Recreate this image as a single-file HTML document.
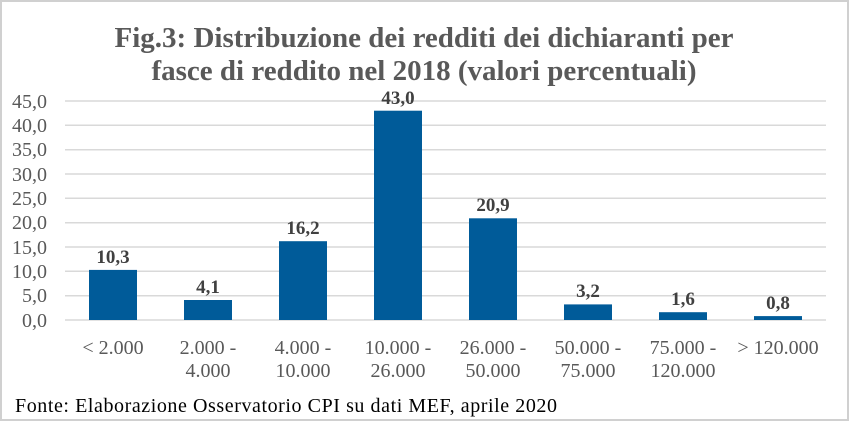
<!DOCTYPE html><html><head><style>body{margin:0;background:#fff}</style></head><body>
<svg width="849" height="421" xmlns="http://www.w3.org/2000/svg" font-family="Liberation Serif, serif">
<rect x="1" y="1" width="847" height="419" fill="#fff" stroke="#d0d0d0" stroke-width="2"/>
<text x="424" y="47" text-anchor="middle" font-size="29" font-weight="bold" fill="#595959">Fig.3: Distribuzione dei redditi dei dichiaranti per</text>
<text x="424" y="80" text-anchor="middle" font-size="29" font-weight="bold" fill="#595959">fasce di reddito nel 2018 (valori percentuali)</text>
<g stroke="#d9d9d9" stroke-width="1.5">
<line x1="65" x2="826" y1="101" y2="101"/><line x1="65" x2="826" y1="125.3" y2="125.3"/><line x1="65" x2="826" y1="149.7" y2="149.7"/><line x1="65" x2="826" y1="174" y2="174"/><line x1="65" x2="826" y1="198.3" y2="198.3"/><line x1="65" x2="826" y1="222.7" y2="222.7"/><line x1="65" x2="826" y1="247" y2="247"/><line x1="65" x2="826" y1="271.3" y2="271.3"/><line x1="65" x2="826" y1="295.7" y2="295.7"/><line x1="65" x2="826" y1="320" y2="320"/>
</g>
<g font-size="20" fill="#595959" text-anchor="end">
<text x="47" y="108">45,0</text><text x="47" y="132">40,0</text><text x="47" y="156">35,0</text><text x="47" y="181">30,0</text><text x="47" y="205">25,0</text><text x="47" y="229">20,0</text><text x="47" y="254">15,0</text><text x="47" y="278">10,0</text><text x="47" y="302">5,0</text><text x="47" y="327">0,0</text>
</g>
<g fill="#005b99">
<rect x="89" y="269.9" width="48" height="50.1"/>
<rect x="184" y="300" width="48" height="20"/>
<rect x="279" y="241.2" width="48" height="78.8"/>
<rect x="374" y="110.7" width="48" height="209.3"/>
<rect x="469" y="218.3" width="48" height="101.7"/>
<rect x="564" y="304.4" width="48" height="15.6"/>
<rect x="659" y="312.2" width="48" height="7.8"/>
<rect x="754" y="316.1" width="48" height="3.9"/>
</g>
<g font-size="19" font-weight="bold" fill="#404040" text-anchor="middle">
<text x="113" y="263">10,3</text><text x="208" y="293">4,1</text><text x="303" y="234">16,2</text><text x="398" y="104">43,0</text><text x="493" y="211">20,9</text><text x="588" y="297">3,2</text><text x="683" y="305">1,6</text><text x="778" y="309">0,8</text>
</g>
<g font-size="20" fill="#595959" text-anchor="middle">
<text x="113" y="354">&lt; 2.000</text>
<text x="208" y="354">2.000 -</text><text x="208" y="377">4.000</text>
<text x="303" y="354">4.000 -</text><text x="303" y="377">10.000</text>
<text x="398" y="354">10.000 -</text><text x="398" y="377">26.000</text>
<text x="493" y="354">26.000 -</text><text x="493" y="377">50.000</text>
<text x="588" y="354">50.000 -</text><text x="588" y="377">75.000</text>
<text x="683" y="354">75.000 -</text><text x="683" y="377">120.000</text>
<text x="778" y="354">&gt; 120.000</text>
</g>
<text x="15" y="412" font-size="20" fill="#000" textLength="542">Fonte: Elaborazione Osservatorio CPI su dati MEF, aprile 2020</text>
</svg>
</body></html>
